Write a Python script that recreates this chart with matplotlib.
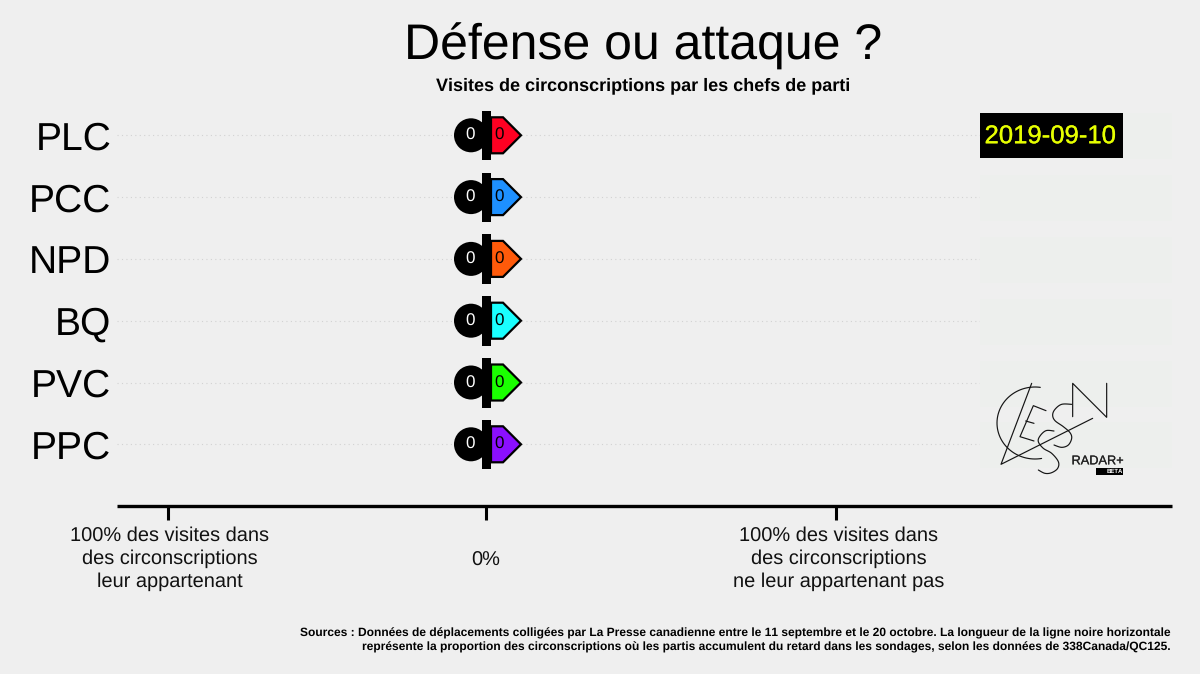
import matplotlib
matplotlib.use("Agg")
import matplotlib.pyplot as plt
import matplotlib.patheffects as pe
import numpy as np
from matplotlib.patches import Rectangle, PathPatch, Circle
from matplotlib.path import Path
from matplotlib.transforms import Affine2D

parties = ["PLC", "PCC", "NPD", "BQ", "PVC", "PPC"]
colors = ["#ff0022", "#1e90ff", "#ff5a0a", "#1affff", "#1aff00", "#8b0fff"]
own_visits = [0, 0, 0, 0, 0, 0]
other_visits = [0, 0, 0, 0, 0, 0]
tick_values = [-91, 0, 100]
tick_labels = ["100% des visites dans\ndes circonscriptions\nleur appartenant", "0%",
               "100% des visites dans\ndes circonscriptions\nne leur appartenant pas"]
date_label = "2019-09-10"
title = "Défense ou attaque ?"
subtitle = "Visites de circonscriptions par les chefs de parti"
source = ("Sources : Données de déplacements colligées par La Presse canadienne entre le 11 septembre et le 20 octobre. "
          "La longueur de la ligne noire horizontale\n"
          "représente la proportion des circonscriptions où les partis accumulent du retard dans les sondages, "
          "selon les données de 338Canada/QC125.")

BG = "#efefef"
W, H = 1200, 674
plt.rcParams["font.family"] = ["Liberation Sans", "DejaVu Sans"]
plt.rcParams["text.hinting"] = "no_hinting"
plt.rcParams["text.hinting_factor"] = 1
fig = plt.figure(figsize=(W / 100, H / 100), dpi=100, facecolor=BG)

L, R, T, B = 117, 1172, 105, 506
ax = fig.add_axes([L / W, 1 - B / H, (R - L) / W, (B - T) / H], facecolor="none")
PX = 3.5  # px per percent
ax.set_xlim((L - 486) / PX, (R - 486) / PX)
ROW = 61.8
BASE = 135.3
ax.set_ylim((B - BASE) / ROW, (T - BASE) / ROW)
ys = np.arange(len(parties))
for s in ["top", "left", "right"]:
    ax.spines[s].set_visible(False)
ax.spines["bottom"].set_linewidth(2.4)
ax.spines["bottom"].set_color("black")
ax.spines["bottom"].set_capstyle("butt")
ax.set_xticks(tick_values)
ax.set_xticklabels(tick_labels, fontsize=14.2, linespacing=1.29, color="#111111")
ax.tick_params(axis="x", length=10, width=2.2, color="black", pad=4.5, direction="out")
ax.set_yticks(ys)
ax.set_yticklabels(parties, fontsize=28.3, color="black")
ax.tick_params(axis="y", length=0, pad=4)
xl = ax.get_xticklabels()
xl[0].set_transform(xl[0].get_transform() + Affine2D().translate(2, 0))
xl[1].set_transform(xl[1].get_transform() + Affine2D().translate(0, -25))
xl[2].set_transform(xl[2].get_transform() + Affine2D().translate(3, 0))
ax.grid(axis="y", color="#d2d2d2", linestyle=(0, (1, 3)), linewidth=0.8)
ax.set_axisbelow(True)

ov = fig.add_axes([0, 0, 1, 1], facecolor="none", zorder=5)
ov.set_xlim(0, W)
ov.set_ylim(H, 0)
ov.axis("off")

def row_y(i):
    return BASE + ROW * i

for i in ys:
    ov.add_patch(Rectangle((980, row_y(i) - 22), 192, 46, fc="#edefed", ec="none"))

arrow = Path([(0, -18), (12, -18), (30, 0), (12, 18), (0, 18), (0, -18)],
             [Path.MOVETO, Path.LINETO, Path.LINETO, Path.LINETO, Path.LINETO, Path.CLOSEPOLY])

for i, (p, c, a, b) in enumerate(zip(parties, colors, own_visits, other_visits)):
    y = row_y(i)
    x0 = 486 + b * PX
    x1 = 486 - a * PX
    ov.add_patch(PathPatch(arrow, fc=c, ec="black", lw=1.6,
                           transform=Affine2D().translate(x0 + 5, y) + ov.transData, zorder=3))
    ov.add_patch(Circle((x1 - 15, y), 17, fc="black", ec="none", zorder=3))
    ov.add_patch(Rectangle((481.5, y - 24.5), 9.5, 49.5, fc="black", ec="none", zorder=4))
    ov.text(x1 - 15.7, y + 0.5, str(a), color="white", fontsize=12, ha="center", va="center", zorder=6)
    ov.text(x0 + 13, y + 0.5, str(b), color="black", fontsize=12, ha="center", va="center", zorder=6)

ov.add_patch(Rectangle((979.5, 113), 143.5, 45, fc="black", ec="none", zorder=6))
ov.text(1051, 136.5, date_label, color="#e6ff00", fontsize=18.5, ha="center", va="center", zorder=7,
        path_effects=[pe.withStroke(linewidth=0.2, foreground="#e6ff00")])

# Logo (decorative line art, pixel frame of the zoomed crop: x = 960 + u/3, y = 370 + v/3)
k = dict(color="#151515", lw=0.85, zorder=7, solid_capstyle="round")
def smooth(pts, n=12):
    p = np.array(pts, float)
    p = np.vstack([p[0], p, p[-1]])
    out = []
    for j in range(1, len(p) - 2):
        for s in np.linspace(0, 1, n, endpoint=False):
            out.append(0.5 * ((2 * p[j]) + (-p[j - 1] + p[j + 1]) * s
                              + (2 * p[j - 1] - 5 * p[j] + 4 * p[j + 1] - p[j + 2]) * s ** 2
                              + (-p[j - 1] + 3 * p[j] - 3 * p[j + 1] + p[j + 2]) * s ** 3))
    out.append(p[-2])
    return np.array(out)
def logo(pts, curved=False):
    q = smooth(pts) if curved else np.array(pts, float)
    ov.plot(960 + q[:, 0] / 3, 370 + q[:, 1] / 3, **k)

th = np.radians(np.linspace(82, 280, 60))
ov.plot(1035 + 38 * np.cos(th), 423 - 36 * np.sin(th), **k)
logo([(215, 40), (123, 283), (398, 145)])
logo([(258, 122), (220, 107), (180, 200), (222, 213)])
logo([(197, 153), (222, 160)])
logo([(338, 140), (338, 40), (440, 142), (440, 40)])
logo([(335, 103), (305, 103), (285, 118), (278, 135), (285, 152), (310, 170), (330, 188),
      (335, 205), (325, 225), (305, 232), (282, 225)], True)
logo([(282, 183), (258, 182), (240, 198), (235, 215), (250, 235), (275, 250), (295, 275),
      (293, 295), (275, 308), (255, 310), (235, 300)], True)
ov.text(1071.5, 461, "RADAR+", fontsize=9.2, color="#222222", ha="left", va="center", zorder=7,
        path_effects=[pe.withStroke(linewidth=0.12, foreground="#222222")])
ov.add_patch(Rectangle((1096, 468), 27, 6.5, fc="black", ec="none", zorder=7))
ov.text(1114.5, 471.2, "BETA", fontsize=4.4, weight="bold", color="white", ha="center", va="center", zorder=8)

fig.text(643.5 / W, 1 - 59.5 / H, title, fontsize=35.7, ha="center", va="baseline", color="black")
fig.text(643.5 / W, 1 - 90 / H, subtitle, fontsize=12.9, weight="bold", ha="center", va="baseline", color="black")
fig.text(1171 / W, 1 - 640 / H, source, fontsize=8.65, weight="bold", ha="right", va="center",
         color="black", linespacing=1.27)

fig.savefig("out.png", dpi=100, facecolor=BG)
